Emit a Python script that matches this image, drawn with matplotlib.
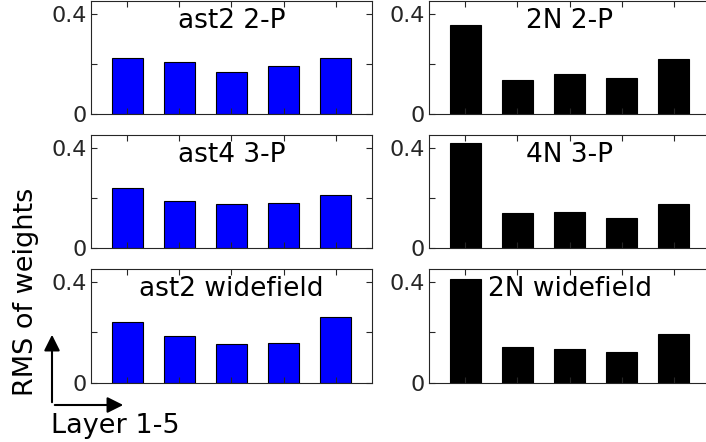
import numpy as np
import matplotlib
matplotlib.use("Agg")
import matplotlib.pyplot as plt

layers = [1, 2, 3, 4, 5]

titles = [["ast2 2-P", "2N 2-P"],
          ["ast4 3-P", "4N 3-P"],
          ["ast2 widefield", "2N widefield"]]

# RMS of weights per layer
ast2_2p = [0.223, 0.209, 0.166, 0.190, 0.223]
n2_2p = [0.356, 0.135, 0.160, 0.145, 0.219]
ast4_3p = [0.239, 0.189, 0.174, 0.178, 0.211]
n4_3p = [0.419, 0.138, 0.144, 0.120, 0.175]
ast2_wf = [0.241, 0.184, 0.155, 0.159, 0.261]
n2_wf = [0.409, 0.142, 0.136, 0.124, 0.193]

values = [[ast2_2p, n2_2p],
          [ast4_3p, n4_3p],
          [ast2_wf, n2_wf]]
colors = ["#0000ff", "#000000"]

W, H = 706, 442
fig = plt.figure(figsize=(W / 100, H / 100), dpi=100)

axc = "#262626"
col_x = [91, 429]
row_y = [(1, 114), (135, 248), (269, 383)]
px_per_unit = 281 / 5.4
# right column runs past the edge of the picture, as in the original
xmax = [5.7, 6.2]

for r in range(3):
    for c in range(2):
        top, bot = row_y[r]
        aw = (xmax[c] - 0.3) * px_per_unit
        ax = fig.add_axes([col_x[c] / W, 1 - bot / H, aw / W, (bot - top) / H])
        ax.bar(layers, values[r][c], width=0.6, color=colors[c],
               edgecolor="black", linewidth=0.8)
        ax.set_xlim(0.3, xmax[c])
        ax.set_ylim(0, 0.45)
        ax.set_xticks(layers)
        ax.set_xticklabels([])
        ax.set_yticks([0, 0.2, 0.4])
        ax.set_yticklabels(["0", "", "0.4"])
        ax.tick_params(direction="in", top=True, right=True, length=4,
                       width=0.8, colors=axc, labelsize=16, pad=3)
        for s in ax.spines.values():
            s.set_color(axc)
            s.set_linewidth(0.8)
        ax.text((3 - 0.3) / (xmax[c] - 0.3), 1 - 27 / 113, titles[r][c],
                transform=ax.transAxes, ha="center", va="baseline",
                fontsize=19, color="black")

fig.text(26 / W, 1 - 292 / H, "RMS of weights", rotation=90,
         ha="center", va="center", fontsize=19.5)
fig.text(51 / W, 1 - 433 / H, "Layer 1-5", ha="left", va="baseline", fontsize=19.5)

ox, oy = 52 / W, 1 - 405 / H
fig.add_artist(matplotlib.patches.FancyArrowPatch(
    (ox, oy), (ox, 1 - 332 / H), transform=fig.transFigure,
    arrowstyle="-|>", mutation_scale=24, color="black", linewidth=1.5))
fig.add_artist(matplotlib.patches.FancyArrowPatch(
    (ox, oy), (126 / W, oy), transform=fig.transFigure,
    arrowstyle="-|>", mutation_scale=24, color="black", linewidth=1.5))

plt.savefig("out.png", dpi=100)
